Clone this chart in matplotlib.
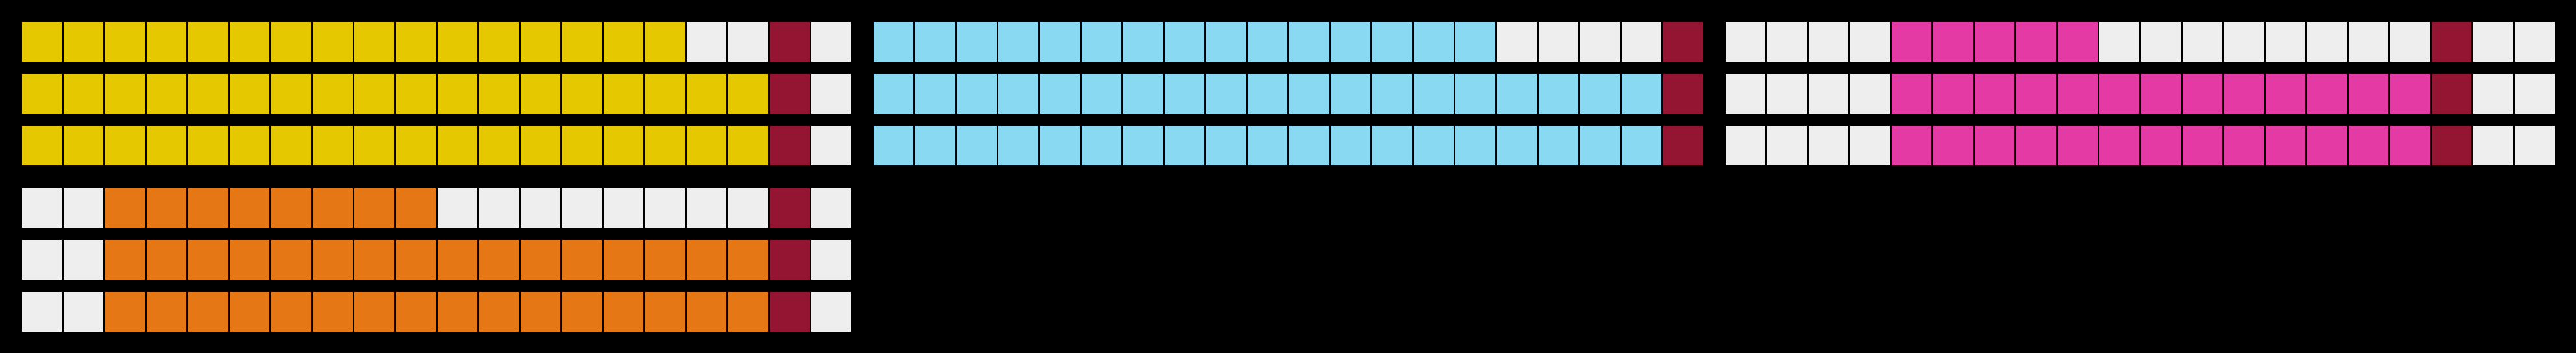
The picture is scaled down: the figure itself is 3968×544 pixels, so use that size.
import matplotlib
matplotlib.use("Agg")
import matplotlib.pyplot as plt

# ---- data: each row is a list of (state, count) segments, 20 cells per row ----
panel_names = ["yellow", "blue", "pink", "orange"]
panel_colors = ["#E5C800", "#88D9F1", "#E43AA4", "#E57814"]

yellow_rows = [[("fill", 16), ("empty", 2), ("mark", 1), ("empty", 1)],
               [("fill", 18), ("mark", 1), ("empty", 1)],
               [("fill", 18), ("mark", 1), ("empty", 1)]]
blue_rows = [[("fill", 15), ("empty", 4), ("mark", 1)],
             [("fill", 19), ("mark", 1)],
             [("fill", 19), ("mark", 1)]]
pink_rows = [[("empty", 4), ("fill", 5), ("empty", 8), ("mark", 1), ("empty", 2)],
             [("empty", 4), ("fill", 13), ("mark", 1), ("empty", 2)],
             [("empty", 4), ("fill", 13), ("mark", 1), ("empty", 2)]]
orange_rows = [[("empty", 2), ("fill", 8), ("empty", 8), ("mark", 1), ("empty", 1)],
               [("empty", 2), ("fill", 16), ("mark", 1), ("empty", 1)],
               [("empty", 2), ("fill", 16), ("mark", 1), ("empty", 1)]]
panels = [yellow_rows, blue_rows, pink_rows, orange_rows]
panel_grid_pos = [(0, 0), (1, 0), (2, 0), (0, 1)]  # (column, row) of panel

empty_color = "#EEEEEE"
mark_color = "#931531"
bg = "#000000"

# ---- layout (pixels) ----
W, H, DPI = 3968, 544, 100
margin = 34
pitch_x = 64          # cell pitch in px
cell_px = 61          # cell size in px
row_pitch = 80        # row pitch in px
ncols = 20
nrows = 3
panel_w = ncols * pitch_x - (pitch_x - cell_px)
panel_h = (nrows - 1) * row_pitch + cell_px
panel_step_x = 1312
panel_step_y = 256

fig = plt.figure(figsize=(W / DPI, H / DPI), dpi=DPI, facecolor=bg)

for rows, fill_color, (pc, pr) in zip(panels, panel_colors, panel_grid_pos):
    left = margin + pc * panel_step_x
    top = margin + pr * panel_step_y
    ax = fig.add_axes([left / W, 1 - (top + panel_h) / H, panel_w / W, panel_h / H])
    ax.set_facecolor(bg)
    cmap = {"fill": fill_color, "empty": empty_color, "mark": mark_color}
    for r, segs in enumerate(rows):
        xs, cols = [], []
        i = 0
        for state, n in segs:
            for _ in range(n):
                xs.append(i)
                cols.append(cmap[state])
                i += 1
        ax.bar(xs, cell_px / pitch_x, width=cell_px / pitch_x, align="edge",
               bottom=r * row_pitch / pitch_x, color=cols, linewidth=0)
    ax.set_xlim(0, panel_w / pitch_x)
    ax.set_ylim(panel_h / pitch_x, 0)
    ax.axis("off")

fig.savefig("out.png", dpi=DPI, facecolor=bg)
